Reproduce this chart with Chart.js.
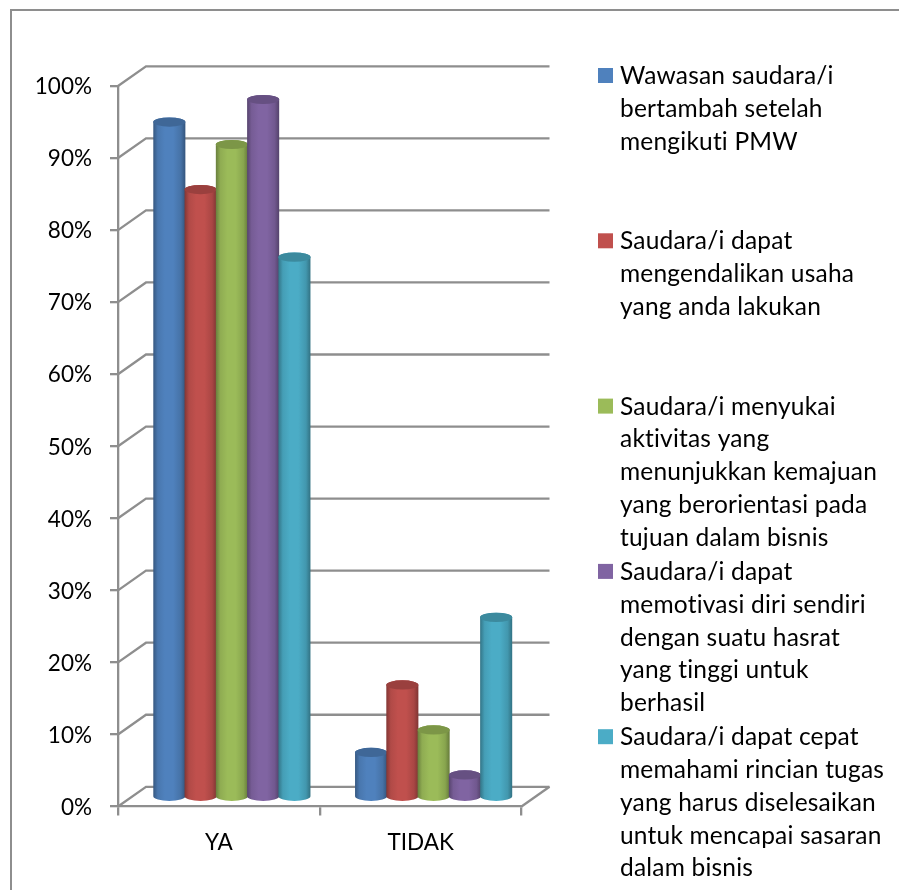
<!DOCTYPE html>
<html>
<head>
<meta charset="utf-8">
<title>Hasil kuesioner PMW</title>
<script src="https://cdn.jsdelivr.net/npm/chart.js@4"></script>
<style>
  html, body { margin: 0; padding: 0; background: #fff; overflow: hidden; }
  canvas { display: block; }
</style>
</head>
<body>
<canvas id="chart" width="899" height="890"></canvas>
<script>
// Answers per category, in percent
const categories = ['YA', 'TIDAK'];
const wawasan = [93.75, 6.25];
const mengendalikan = [84.38, 15.63];
const menyukai = [90.63, 9.38];
const memotivasi = [96.88, 3.13];
const memahami = [75, 25];

const seriesValues = [wawasan, mengendalikan, menyukai, memotivasi, memahami];
const seriesColors = ['#4F81BD', '#C0504D', '#9BBB59', '#8064A2', '#4BACC6'];
const seriesLegendLines = [
  ['Wawasan saudara/i', 'bertambah setelah', 'mengikuti PMW'],
  ['Saudara/i dapat', 'mengendalikan usaha', 'yang anda lakukan'],
  ['Saudara/i menyukai', 'aktivitas yang', 'menunjukkan kemajuan', 'yang berorientasi pada', 'tujuan dalam bisnis'],
  ['Saudara/i dapat', 'memotivasi diri sendiri', 'dengan suatu hasrat', 'yang tinggi untuk', 'berhasil'],
  ['Saudara/i dapat cepat', 'memahami rincian tugas', 'yang harus diselesaikan', 'untuk mencapai sasaran', 'dalam bisnis']
];

const FONT = 'Lato, Carlito, Calibri, sans-serif';
const AXIS_GREY = '#8E8E8E';
const DEPTH_X = 28;      // how far the back wall sits to the right of the front axis
const DEPTH_Y = -19.7;   // and how far above it
const BAR_SHIFT_X = 13;  // columns stand halfway along the floor's depth
const BAR_SHIFT_Y = -9;
const CAP_RY = 4.6;

function shade(hex, f) {
  const n = parseInt(hex.slice(1), 16);
  const c = [n >> 16, (n >> 8) & 255, n & 255].map(v => Math.round(v * f));
  return `rgb(${c[0]},${c[1]},${c[2]})`;
}

function drawCylinder(ctx, bar, color) {
  const half = bar.width / 2 + 0.4;
  const cx = bar.x + BAR_SHIFT_X;
  const top = bar.y + BAR_SHIFT_Y;
  const bottom = bar.base + BAR_SHIFT_Y;

  const g = ctx.createLinearGradient(cx - half, 0, cx + half, 0);
  g.addColorStop(0, shade(color, 0.68));
  g.addColorStop(0.14, shade(color, 0.92));
  g.addColorStop(0.36, color);
  g.addColorStop(0.62, color);
  g.addColorStop(0.86, shade(color, 0.88));
  g.addColorStop(1, shade(color, 0.66));

  ctx.beginPath();
  ctx.moveTo(cx - half, top);
  ctx.lineTo(cx - half, bottom);
  ctx.ellipse(cx, bottom, half, CAP_RY, 0, Math.PI, 0, true);
  ctx.lineTo(cx + half, top);
  ctx.ellipse(cx, top, half, CAP_RY, 0, 0, Math.PI, true);
  ctx.closePath();
  ctx.fillStyle = g;
  ctx.fill();

  ctx.beginPath();
  ctx.ellipse(cx, top, half, CAP_RY, 0, 0, Math.PI * 2);
  ctx.fillStyle = shade(color, 0.8);
  ctx.fill();
}

// Outer frame, then the walls and floor of the box behind the columns
const boxPlugin = {
  id: 'box',
  beforeDatasetsDraw(chart) {
    const { ctx, scales: { y }, chartArea: a } = chart;
    ctx.save();
    ctx.strokeStyle = AXIS_GREY;
    ctx.lineWidth = 2;
    ctx.beginPath();
    ctx.moveTo(899, 10);
    ctx.lineTo(11, 10);
    ctx.lineTo(11, 890);
    ctx.stroke();

    ctx.lineWidth = 2.3;
    y.ticks.forEach(t => {
      const py = y.getPixelForValue(t.value);
      ctx.beginPath();
      ctx.moveTo(a.left, py);
      ctx.lineTo(a.left + DEPTH_X, py + DEPTH_Y);
      ctx.lineTo(a.right + DEPTH_X, py + DEPTH_Y);
      ctx.stroke();
    });
    const floor = y.getPixelForValue(0);
    ctx.beginPath();
    ctx.moveTo(a.right, floor);
    ctx.lineTo(a.right + DEPTH_X, floor + DEPTH_Y);
    ctx.stroke();
    ctx.restore();

    // Columns paint left to right, each one overlapping the previous
    chart.data.datasets.forEach((ds, i) => {
      chart.getDatasetMeta(i).data.forEach(bar => drawCylinder(ctx, bar, seriesColors[i]));
    });
    return false;
  }
};

// Wrapped legend with one swatch per series at a fixed pitch
const wrappedLegendPlugin = {
  id: 'wrappedLegend',
  afterDraw(chart) {
    const { ctx } = chart;
    const lineStep = 32.8;
    const itemStep = 165.3;
    ctx.save();
    ctx.font = `24.5px ${FONT}`;
    ctx.letterSpacing = '0.2px';
    ctx.textBaseline = 'alphabetic';
    ctx.textAlign = 'left';
    seriesLegendLines.forEach((lines, i) => {
      const top = 68 + i * itemStep;
      ctx.fillStyle = seriesColors[i];
      ctx.fillRect(598, top, 15, 15);
      ctx.fillStyle = '#000';
      lines.forEach((line, j) => ctx.fillText(line, 620, top + 16 + j * lineStep));
    });
    ctx.restore();
  }
};

new Chart(document.getElementById('chart'), {
  type: 'bar',
  data: {
    labels: categories,
    datasets: seriesValues.map((data, i) => ({
      label: seriesLegendLines[i].join(' '),
      data,
      backgroundColor: seriesColors[i],
      categoryPercentage: 0.775,
      barPercentage: 1
    }))
  },
  plugins: [boxPlugin, wrappedLegendPlugin],
  options: {
    responsive: false,
    animation: false,
    layout: { padding: { top: 86, right: 377.5, bottom: 0, left: 0 } },
    plugins: { legend: { display: false }, tooltip: { enabled: false } },
    scales: {
      x: {
        afterFit(s) { s.height = 83.5; },
        grid: {
          offset: true,
          drawOnChartArea: false,
          color: AXIS_GREY,
          lineWidth: 2.3,
          tickLength: 9
        },
        border: { color: AXIS_GREY, width: 2.3 },
        ticks: { color: '#000', font: { family: FONT, size: 22.5 }, padding: 14 }
      },
      y: {
        min: 0,
        max: 100,
        afterFit(s) { s.width = 118; },
        grid: {
          drawOnChartArea: false,
          color: AXIS_GREY,
          lineWidth: 2.3,
          tickLength: 8
        },
        border: { color: AXIS_GREY, width: 2.3 },
        ticks: {
          stepSize: 10,
          color: '#000',
          padding: 18,
          labelOffset: 1,
          font: { family: FONT, size: 22.5 },
          callback: v => v + '%'
        }
      }
    }
  }
});
</script>
</body>
</html>
